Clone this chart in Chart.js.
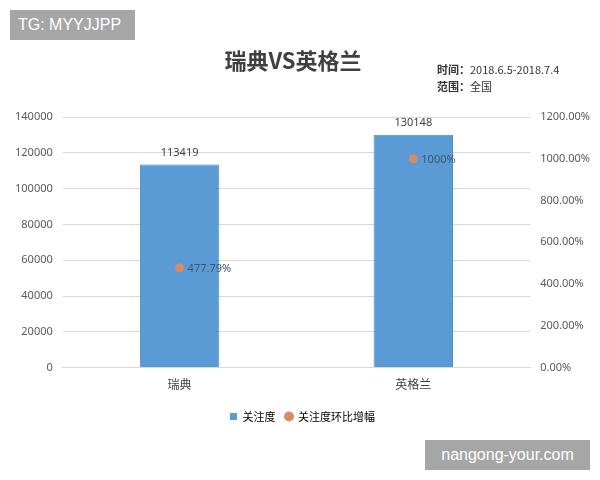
<!DOCTYPE html>
<html>
<head>
<meta charset="utf-8">
<script src="https://cdn.jsdelivr.net/npm/chart.js@4"></script>
<style>
  body { margin: 0; background: #fff; }
  #wrap { position: relative; width: 600px; height: 480px; font-family: "Noto Sans CJK SC", "Noto Sans", sans-serif; }
  .mark { position: absolute; background: #a6a6a6; color: #fff; font-family: "Liberation Sans", Arial, sans-serif; }
  #title { position: absolute; left: 193px; width: 200px; top: 43px; text-align: center; font-size: 22px; font-weight: bold; color: #404040; }
  #note { position: absolute; left: 437px; top: 61px; font-size: 11px; color: #333; line-height: 17px; }
  #note b { font-weight: bold; }
</style>
</head>
<body>
<div id="wrap">
  <canvas id="chart" width="600" height="480"></canvas>
  <div id="title">瑞典VS英格兰</div>
  <div class="mark" style="left:10px;top:10px;width:125px;height:30px;line-height:30px;font-size:16px;padding-left:8px;box-sizing:border-box;">TG: MYYJJPP</div>
  <div id="note"><b>时间：</b>2018.6.5-2018.7.4<br><b>范围：</b>全国</div>
  <div class="mark" style="left:425px;top:440px;width:165px;height:30px;line-height:30px;font-size:16px;text-align:center;">nangong-your.com</div>
</div>
<script>
// 数据
const categories = ['瑞典', '英格兰'];
const attention = [113419, 130148];
const growth = [477.79, 1000];
const growthLabels = ['477.79%', '1000%'];
const leftTicks = [0, 20000, 40000, 60000, 80000, 100000, 120000, 140000];
const rightTicks = [0, 200, 400, 600, 800, 1000, 1200];

// 简单的数据标签插件
const valueLabels = {
    id: 'valueLabels',
    afterDatasetsDraw(chart) {
        const ctx = chart.ctx;
        ctx.save();
        ctx.font = '11px "Noto Sans", "Liberation Sans", sans-serif';
        chart.getDatasetMeta(0).data.forEach((bar, i) => {
            ctx.fillStyle = '#404040';
            ctx.textAlign = 'center';
            ctx.textBaseline = 'bottom';
            ctx.fillText(attention[i], bar.x, bar.y - 6);
        });
        chart.getDatasetMeta(1).data.forEach((pt, i) => {
            ctx.fillStyle = '#44546A';
            ctx.textAlign = 'left';
            ctx.textBaseline = 'middle';
            ctx.fillText(growthLabels[i], pt.x + 8, pt.y + 1);
        });
        ctx.restore();
    }
};

const ctx = document.getElementById('chart').getContext('2d');
new Chart(ctx, {
    data: {
        labels: categories,
        datasets: [{
            type: 'bar',
            label: '关注度',
            data: attention,
            backgroundColor: '#5B9BD5',
            borderColor: '#4a8ac6',
            borderWidth: 1,
            barPercentage: 0.68,
            categoryPercentage: 0.5,
            yAxisID: 'y',
            order: 2
        }, {
            type: 'line',
            label: '关注度环比增幅',
            data: growth,
            showLine: false,
            pointRadius: 4,
            pointBackgroundColor: '#d98c5f',
            pointBorderColor: '#d98c5f',
            yAxisID: 'y1',
            order: 1
        }]
    },
    options: {
        responsive: false,
        animation: false,
        layout: { padding: { top: 117, left: 5, right: 0, bottom: 48 } },
        plugins: {
            legend: {
                position: 'bottom',
                labels: {
                    usePointStyle: true,
                    boxWidth: 7,
                    boxHeight: 7,
                    color: '#595959',
                    font: { size: 11, family: '"Noto Sans CJK SC", sans-serif' },
                    generateLabels(chart) {
                        return chart.data.datasets.map((ds, i) => ({
                            text: ds.label,
                            fillStyle: i === 0 ? '#5B9BD5' : '#d98c5f',
                            strokeStyle: i === 0 ? '#5B9BD5' : '#d98c5f',
                            pointStyle: i === 0 ? 'rect' : 'circle',
                            lineWidth: 0,
                            datasetIndex: i
                        }));
                    }
                }
            },
            tooltip: { enabled: false }
        },
        scales: {
            x: {
                grid: { display: false },
                border: { color: '#d9d9d9' },
                ticks: { color: '#404040', font: { size: 12, family: '"Noto Sans CJK SC", sans-serif' }, padding: 2 },
                afterFit(axis) { axis.height += 7; }
            },
            y: {
                position: 'left',
                min: 0,
                max: 140000,
                afterBuildTicks(axis) { axis.ticks = leftTicks.map(v => ({ value: v })); },
                grid: { color: '#d9d9d9', drawTicks: false },
                border: { display: false },
                ticks: {
                    color: '#595959',
                    font: { size: 11, family: '"Noto Sans", sans-serif' },
                    padding: 10,
                    callback: v => String(v)
                }
            },
            y1: {
                position: 'right',
                min: 0,
                max: 1200,
                afterBuildTicks(axis) { axis.ticks = rightTicks.map(v => ({ value: v })); },
                grid: { display: false, drawTicks: false },
                border: { display: false },
                ticks: {
                    color: '#595959',
                    font: { size: 11, family: '"Noto Sans", sans-serif' },
                    padding: 10,
                    callback: v => v.toFixed(2) + '%'
                }
            }
        }
    },
    plugins: [valueLabels]
});
</script>
</body>
</html>
